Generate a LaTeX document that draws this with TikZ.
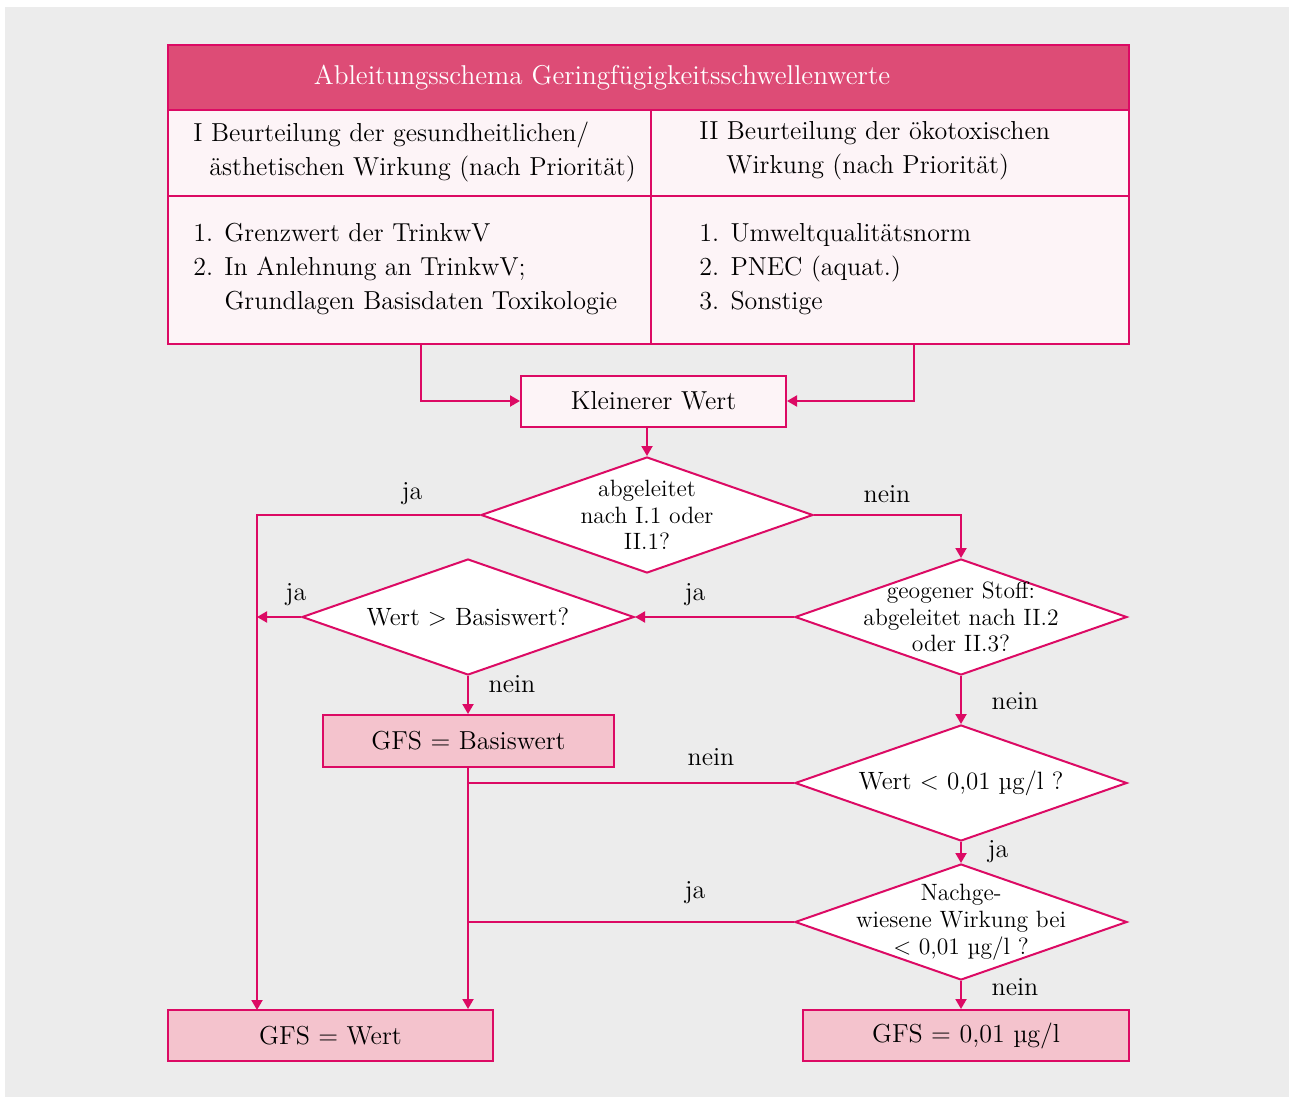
\documentclass[tikz,border=0pt]{standalone}
\usepackage{fontspec}
\usetikzlibrary{shapes.geometric,arrows.meta}

\definecolor{linienrot}{HTML}{DC0A64}
\definecolor{kopfrot}{HTML}{DD4C76}
\definecolor{hellrosa}{HTML}{FDF4F7}
\definecolor{rosa}{HTML}{F4C3CD}
\definecolor{grund}{HTML}{ECECEC}

\tikzset{
  rahmen/.style={draw=linienrot, line width=1pt},
  linie/.style={draw=linienrot, line width=1pt},
  pfeil/.style={linie, -{Triangle[length=5pt,width=5.5pt]}},
  kasten/.style={rectangle, draw=linienrot, line width=1pt, fill=hellrosa, inner sep=0pt,
    font=\fontsize{13}{17}\selectfont},
  ergebnis/.style={kasten, fill=rosa},
  raute/.style={diamond, draw=linienrot, line width=1pt, fill=white, inner sep=0pt,
    minimum width=166pt, minimum height=58pt},
  rautetext/.style={align=center, font=\fontsize{11.8}{13.4}\selectfont},
  antwort/.style={inner sep=0pt, font=\fontsize{13}{17}\selectfont},
  zelle/.style={inner sep=0pt, align=left, anchor=west, font=\fontsize{13}{17}\selectfont},
}

\begin{document}
\begin{tikzpicture}[x=0.5pt, y=-0.5pt]
\useasboundingbox (0,0) rectangle (1289,1097);
\fill[grund] (5,7) rectangle (1289,1097);

% Tabelle
\fill[kopfrot] (168,45) rectangle (1129,110);
\fill[hellrosa] (168,110) rectangle (1129,344);
\draw[rahmen] (168,45) rectangle (1129,344);
\draw[rahmen] (168,110) -- (1129,110);
\draw[rahmen] (168,196) -- (1129,196);
\draw[rahmen] (651,110) -- (651,344);

\node[antwort, text=white, font=\fontsize{13.6}{17}\selectfont] (titel) at (602,78) {Ableitungsschema Geringfügigkeitsschwellenwerte};
\node[zelle] (kopfI) at (193,152) {I Beurteilung der gesundheitlichen/\\\hspace*{8pt}ästhetischen Wirkung (nach Priorität)};
\node[zelle] (kopfII) at (699,151) {II Beurteilung der ökotoxischen\\\hspace*{13.5pt}Wirkung (nach Priorität)};
\node[zelle] (listeI) at (193,269) {1. Grenzwert der TrinkwV\\2. In Anlehnung an TrinkwV;\\\phantom{2. }Grundlagen Basisdaten Toxikologie};
\node[zelle] (listeII) at (699,269) {1. Umweltqualitätsnorm\\2. PNEC (aquat.)\\3. Sonstige};

\coordinate (tI) at (421,344);
\coordinate (tII) at (914,344);
\coordinate (wL) at (257,1010);

% Knoten
\node[kasten, minimum width=132.5pt, minimum height=25.5pt] (kw) at (653.5,401) {Kleinerer Wert};
\node[raute, label={[rautetext]center:abgeleitet\\nach I.1 oder\\II.1?}] (d1) at (647,515) {};
\node[raute, label={[rautetext]center:geogener Stoff:\\abgeleitet nach II.2\\oder II.3?}] (d2) at (961,617) {};
\node[raute, label={[rautetext, font=\fontsize{12.5}{14}\selectfont]center:Wert > Basiswert?}] (d3) at (468,617) {};
\node[ergebnis, minimum width=145.5pt, minimum height=26pt] (gfsB) at (468.5,741) {GFS = Basiswert};
\node[raute, label={[rautetext, font=\fontsize{12.5}{14}\selectfont]center:Wert < 0,01 µg/l ?}] (d4) at (961,783) {};
\node[raute, label={[rautetext]center:Nachge-\\wiesene Wirkung bei\\< 0,01 µg/l ?}] (d5) at (961,922) {};
\node[ergebnis, minimum width=162.5pt, minimum height=25.5pt] (gfsW) at (330.5,1035.5) {GFS = Wert};
\node[ergebnis, minimum width=163pt, minimum height=25.5pt] (gfs001) at (966,1035.5) {GFS = 0,01 µg/l};

% Verbindungen
\draw[pfeil] (tI) |- (kw.west);
\draw[pfeil] (tII) |- (kw.east);
\draw[pfeil] (d1.north |- kw.south) -- (d1.north);
\draw[pfeil] (d1.west) -| (wL);
\draw[pfeil] (d1.east) -| (d2.north);
\draw[pfeil] (d2.west) -- (d3.east);
\draw[pfeil] (d3.west) -- (d3.west -| wL);
\draw[pfeil] (d3.south) -- (d3.south |- gfsB.north);
\draw[pfeil] (d3.south |- gfsB.south) -- (d3.south |- gfsW.north);
\draw[pfeil] (d2.south) -- (d4.north);
\draw[linie] (d4.west) -- (d4.west -| d3.south);
\draw[pfeil] (d4.south) -- (d5.north);
\draw[linie] (d5.west) -- (d5.west -| d3.south);
\draw[pfeil] (d5.south) -- (d5.south |- gfs001.north);

% ja / nein
\node[antwort] (ja1) at (412,494) {ja};
\node[antwort] (nein1) at (887,494) {nein};
\node[antwort] (ja2) at (695,595) {ja};
\node[antwort] (ja3) at (296,595) {ja};
\node[antwort] (nein2) at (512,684) {nein};
\node[antwort] (nein3) at (1015,701) {nein};
\node[antwort] (nein4) at (711,757) {nein};
\node[antwort] (ja4) at (998,852) {ja};
\node[antwort] (ja5) at (695,893) {ja};
\node[antwort] (nein5) at (1015,987) {nein};

\end{tikzpicture}
\end{document}
